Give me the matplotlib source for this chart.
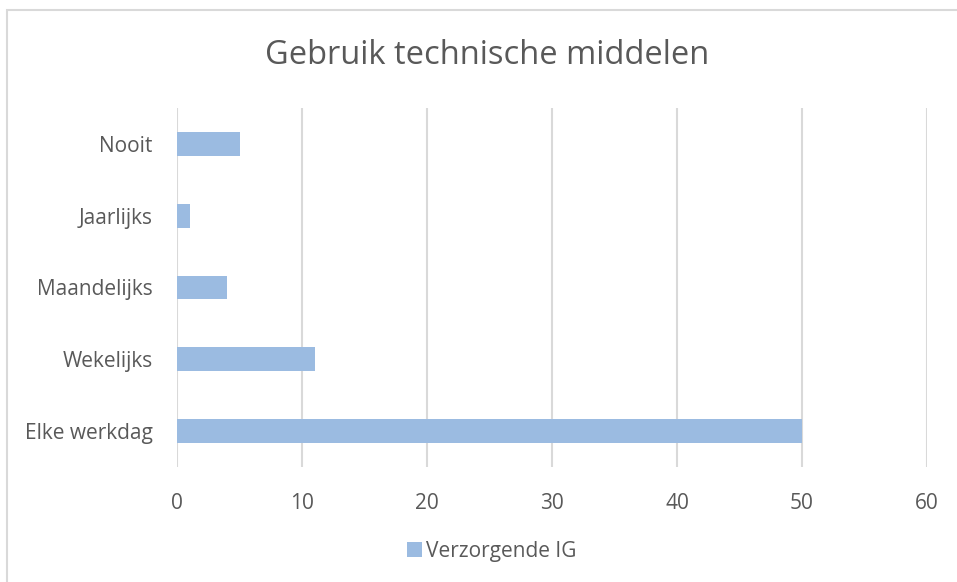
import matplotlib.pyplot as plt
from matplotlib.patches import Rectangle

# data
categories = ['Elke werkdag', 'Wekelijks', 'Maandelijks', 'Jaarlijks', 'Nooit']
values = [50, 11, 4, 1, 5]
xticks = [0, 10, 20, 30, 40, 50, 60]
series_name = 'Verzorgende IG'
title = 'Gebruik technische middelen'

bar_color = '#9BBBE1'
text_color = '#595959'
grid_color = '#D9D9D9'

plt.rcParams['font.family'] = ['Open Sans', 'DejaVu Sans']

fig = plt.figure(figsize=(9.57, 5.82), dpi=100)
W, H = 957, 582
ax = fig.add_axes([177 / W, (H - 467) / H, (927 - 177) / W, (467 - 108) / H])

ypos = range(len(categories))
ax.barh(ypos, values, height=1 / 3, color=bar_color, label=series_name, zorder=3)

ax.set_xlim(0, 60)
ax.set_ylim(-0.5, len(categories) - 0.5)
ax.set_xticks(xticks)
ax.set_xticklabels([str(t) for t in xticks], fontsize=15, color=text_color)
ax.set_yticks(list(ypos))
ax.set_yticklabels(categories, fontsize=15, color=text_color)
ax.tick_params(axis='both', length=0)
ax.tick_params(axis='x', pad=19)
ax.tick_params(axis='y', pad=17.5)
ax.grid(axis='x', color=grid_color, linewidth=1.5, zorder=0)
for s in ax.spines.values():
    s.set_visible(False)

fig.text(487 / W, 1 - 55 / H, title, ha='center', va='center', fontsize=23.5, color=text_color)

leg = fig.legend(loc='center', bbox_to_anchor=(492 / W, 1 - 551 / H), frameon=False,
                 fontsize=15, handlelength=0.7, handleheight=0.7, handletextpad=0.2)
for t in leg.get_texts():
    t.set_color(text_color)

fig.patches.append(Rectangle((7 / W, -0.1), 1.2, 1.1 - 10 / H, transform=fig.transFigure,
                             fill=False, edgecolor=grid_color, linewidth=1.5))

fig.savefig('out.png', dpi=100)
